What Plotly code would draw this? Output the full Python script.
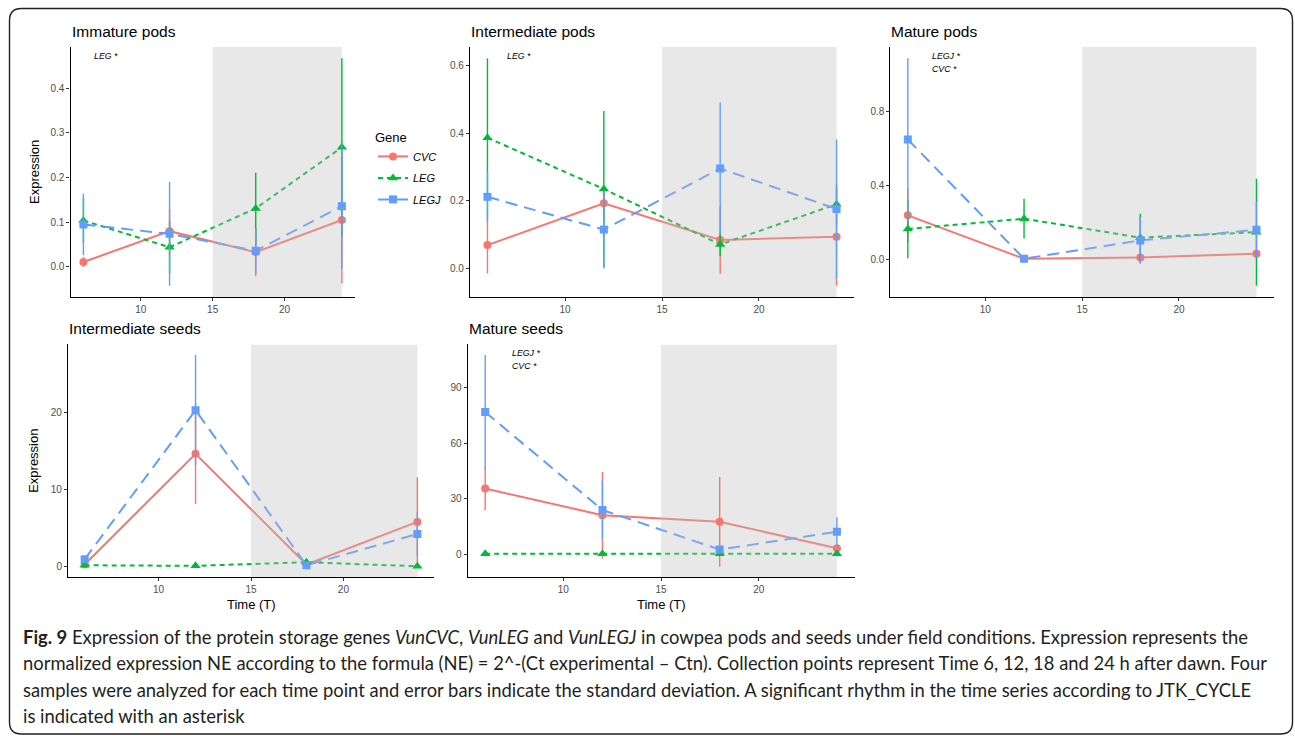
import plotly.graph_objects as go

W, H = 1295, 736

# ---- data -------------------------------------------------------------
TIMES = [6, 12, 18, 24]
GENES = ["CVC", "LEG", "LEGJ"]
NIGHT_START, NIGHT_END = 15, 24

PANEL_TITLES = ["Immature pods", "Intermediate pods", "Mature pods",
                "Intermediate seeds", "Mature seeds"]
RHYTHM_NOTES = [["LEG *"], ["LEG *"], ["LEGJ *", "CVC *"], [], ["LEGJ *", "CVC *"]]

# Immature pods
imm_pods_cvc = [0.011, 0.080, 0.033, 0.105]
imm_pods_cvc_sd = [0.011, 0.050, 0.054, 0.142]
imm_pods_leg = [0.104, 0.044, 0.131, 0.268]
imm_pods_leg_sd = [0.050, 0.060, 0.080, 0.199]
imm_pods_legj = [0.095, 0.074, 0.036, 0.136]
imm_pods_legj_sd = [0.069, 0.116, 0.050, 0.140]

# Intermediate pods
int_pods_cvc = [0.069, 0.193, 0.084, 0.094]
int_pods_cvc_sd = [0.084, 0.050, 0.100, 0.145]
int_pods_leg = [0.387, 0.235, 0.071, 0.190]
int_pods_leg_sd = [0.235, 0.231, 0.035, 0.060]
int_pods_legj = [0.212, 0.115, 0.296, 0.176]
int_pods_legj_sd = [0.075, 0.115, 0.195, 0.206]

# Mature pods
mat_pods_cvc = [0.239, 0.004, 0.011, 0.031]
mat_pods_cvc_sd = [0.145, 0.005, 0.008, 0.010]
mat_pods_leg = [0.165, 0.221, 0.118, 0.148]
mat_pods_leg_sd = [0.158, 0.108, 0.130, 0.290]
mat_pods_legj = [0.650, 0.004, 0.103, 0.161]
mat_pods_legj_sd = [0.440, 0.005, 0.127, 0.150]

# Intermediate seeds
int_seeds_cvc = [0.26, 14.6, 0.26, 5.78]
int_seeds_cvc_sd = [0.20, 6.5, 0.15, 5.80]
int_seeds_leg = [0.17, 0.09, 0.56, 0.04]
int_seeds_leg_sd = [0.05, 0.05, 0.10, 0.03]
int_seeds_legj = [0.95, 20.26, 0.17, 4.22]
int_seeds_legj_sd = [0.40, 7.15, 0.10, 2.90]

# Mature seeds
mat_seeds_cvc = [35.5, 21.1, 17.5, 3.2]
mat_seeds_cvc_sd = [11.7, 23.4, 24.3, 1.5]
mat_seeds_leg = [0.2, 0.2, 0.2, 0.2]
mat_seeds_leg_sd = [0.1, 0.1, 0.1, 0.1]
mat_seeds_legj = [76.9, 23.9, 2.5, 12.1]
mat_seeds_legj_sd = [30.9, 15.9, 1.5, 7.9]

PANEL_DATA = [
    [(imm_pods_cvc, imm_pods_cvc_sd), (imm_pods_leg, imm_pods_leg_sd), (imm_pods_legj, imm_pods_legj_sd)],
    [(int_pods_cvc, int_pods_cvc_sd), (int_pods_leg, int_pods_leg_sd), (int_pods_legj, int_pods_legj_sd)],
    [(mat_pods_cvc, mat_pods_cvc_sd), (mat_pods_leg, mat_pods_leg_sd), (mat_pods_legj, mat_pods_legj_sd)],
    [(int_seeds_cvc, int_seeds_cvc_sd), (int_seeds_leg, int_seeds_leg_sd), (int_seeds_legj, int_seeds_legj_sd)],
    [(mat_seeds_cvc, mat_seeds_cvc_sd), (mat_seeds_leg, mat_seeds_leg_sd), (mat_seeds_legj, mat_seeds_legj_sd)],
]

Y_TICKS = [[0.0, 0.1, 0.2, 0.3, 0.4], [0.0, 0.2, 0.4, 0.6], [0.0, 0.4, 0.8],
           [0, 10, 20], [0, 30, 60, 90]]
Y_TICKFMT = [".1f", ".1f", ".1f", "d", "d"]
X_TICKS = [10, 15, 20]

CAPTION = [
    "<b>Fig. 9</b> Expression of the protein storage genes <i>VunCVC</i>, <i>VunLEG</i> and "
    "<i>VunLEGJ</i> in cowpea pods and seeds under field conditions. Expression represents the",
    "normalized expression NE according to the formula (NE) = 2^-(Ct experimental \u2013 Ctn). "
    "Collection points represent Time 6, 12, 18 and 24 h after dawn. Four",
    "samples were analyzed for each time point and error bars indicate the standard deviation. "
    "A significant rhythm in the time series according to JTK_CYCLE",
    "is indicated with an asterisk",
]

# ---- styling ------------------------------------------------------------
FONT = "Liberation Sans, Arial, sans-serif"
CAPTION_FONT = "Lato, sans-serif"
COLORS = {"CVC": "#F8766D", "LEG": "#00BA38", "LEGJ": "#619CFF"}
DASHES = {"CVC": "solid", "LEG": "5px,4px", "LEGJ": "12px,7px"}
SYMBOLS = {"CVC": "circle", "LEG": "triangle-up", "LEGJ": "square"}
MSIZE = {"CVC": 8, "LEG": 9, "LEGJ": 8}

# panel plot areas in pixels: (left, right, top, bottom)
PANEL_BOX = [
    (70.5, 354.8, 47, 297),
    (470.0, 854.0, 47, 297),
    (890.4, 1273.9, 47, 297),
    (68.0, 434.0, 344.4, 577.3),
    (467.6, 854.5, 344.4, 577.3),
]


def px_x(x):
    return x / W


def px_y(y):
    return 1 - y / H


fig = go.Figure()
annotations = []

for p, series in enumerate(PANEL_DATA):
    ax = "" if p == 0 else str(p + 1)
    xref, yref = "x" + ax, "y" + ax
    left, right, top, bottom = PANEL_BOX[p]

    lo = min(m - s for vals, sds in series for m, s in zip(vals, sds))
    hi = max(m + s for vals, sds in series for m, s in zip(vals, sds))
    pad = (hi - lo) * 0.05
    yrange = [lo - pad, hi + pad]
    span = TIMES[-1] - TIMES[0]
    xrange = [TIMES[0] - 0.05 * span, TIMES[-1] + 0.05 * span]

    # connecting lines
    for g, (vals, sds) in zip(GENES, series):
        fig.add_trace(go.Scatter(
            x=TIMES, y=vals, mode="lines", xaxis=xref, yaxis=yref,
            line=dict(color=COLORS[g], width=2, dash=DASHES[g]),
            showlegend=False, hoverinfo="skip"))

    # translucent night band, laid over the lines
    fig.add_trace(go.Scatter(
        x=[NIGHT_START, NIGHT_END, NIGHT_END, NIGHT_START, NIGHT_START],
        y=[yrange[0], yrange[0], yrange[1], yrange[1], yrange[0]],
        mode="lines", fill="toself", fillcolor="rgba(190,190,190,0.35)",
        line=dict(width=0, color="rgba(0,0,0,0)"), xaxis=xref, yaxis=yref,
        showlegend=False, hoverinfo="skip"))

    # points with standard deviation bars
    for g, (vals, sds) in zip(GENES, series):
        fig.add_trace(go.Scatter(
            x=TIMES, y=vals, mode="markers", xaxis=xref, yaxis=yref,
            marker=dict(color=COLORS[g], symbol=SYMBOLS[g], size=MSIZE[g], line=dict(width=0)),
            error_y=dict(type="data", array=sds, visible=True, color=COLORS[g],
                         thickness=1.4, width=0),
            showlegend=False, name=g))

    axis_common = dict(showline=True, linecolor="black", linewidth=1.1, ticks="outside",
                       ticklen=3, tickwidth=1, tickcolor="#333333", showgrid=False,
                       zeroline=False, tickfont=dict(family=FONT, size=10, color="#4D4D4D"))
    fig.update_layout({
        "xaxis" + ax: dict(domain=[px_x(left), px_x(right)], range=xrange, anchor=yref,
                           tickvals=X_TICKS, **axis_common),
        "yaxis" + ax: dict(domain=[px_y(bottom), px_y(top)], range=yrange, anchor=xref,
                           tickvals=Y_TICKS[p], tickformat=Y_TICKFMT[p], **axis_common),
    })

    # panel title
    annotations.append(dict(text=PANEL_TITLES[p], xref="paper", yref="paper",
                            x=px_x(left - 1), y=px_y(top - 16), xanchor="left", yanchor="middle",
                            showarrow=False, font=dict(family=FONT, size=15.5, color="black")))
    # rhythm notes
    for k, note in enumerate(RHYTHM_NOTES[p]):
        nx = {0: 92, 1: 505, 2: 930, 4: 510}[p]
        annotations.append(dict(text="<i>" + note + "</i>", xref="paper", yref="paper",
                                x=px_x(nx), y=px_y(top + 9 + 13 * k), xanchor="left",
                                yanchor="middle", showarrow=False,
                                font=dict(family=FONT, size=8.8, color="black")))

# axis titles
for p in (0, 3):
    left, right, top, bottom = PANEL_BOX[p]
    annotations.append(dict(text="Expression", xref="paper", yref="paper", x=px_x(34),
                            y=px_y((top + bottom) / 2), textangle=-90, showarrow=False,
                            xanchor="center", yanchor="middle",
                            font=dict(family=FONT, size=13, color="black")))
for p in (3, 4):
    left, right, top, bottom = PANEL_BOX[p]
    annotations.append(dict(text="Time (T)", xref="paper", yref="paper",
                            x=px_x((left + right) / 2), y=px_y(604), showarrow=False,
                            xanchor="center", yanchor="middle",
                            font=dict(family=FONT, size=13, color="black")))

# legend entries (line + marker keys)
for g in GENES:
    fig.add_trace(go.Scatter(
        x=[None], y=[None], mode="lines+markers", name="<i>" + g + "</i>",
        legendgroup=g,
        line=dict(color=COLORS[g], width=2, dash=DASHES[g]),
        marker=dict(color=COLORS[g], symbol=SYMBOLS[g], size=MSIZE[g])))

# caption
for i, line in enumerate(CAPTION):
    annotations.append(dict(text=line, xref="paper", yref="paper", x=px_x(21),
                            y=px_y(637 + 26.3 * i), xanchor="left", yanchor="middle",
                            showarrow=False, align="left",
                            font=dict(family=CAPTION_FONT, size=18.4, color="#231F20")))

# rounded frame around figure
x0, x1, y0, y1, r = px_x(9.5), px_x(1292.5), px_y(8.5), px_y(734), 12
rx, ry = r / W, r / H
frame = (f"M {x0 + rx},{y0} L {x1 - rx},{y0} Q {x1},{y0} {x1},{y0 - ry} "
         f"L {x1},{y1 + ry} Q {x1},{y1} {x1 - rx},{y1} L {x0 + rx},{y1} "
         f"Q {x0},{y1} {x0},{y1 + ry} L {x0},{y0 - ry} Q {x0},{y0} {x0 + rx},{y0} Z")

fig.update_layout(
    width=W, height=H, margin=dict(l=0, r=0, t=0, b=0),
    paper_bgcolor="white", plot_bgcolor="rgba(0,0,0,0)",
    font=dict(family=FONT),
    annotations=annotations,
    shapes=[dict(type="path", path=frame, xref="paper", yref="paper",
                 line=dict(color="#231F20", width=1.4), layer="above")],
    legend=dict(x=px_x(373), y=px_y(125), xanchor="left", yanchor="top",
                title=dict(text="Gene", font=dict(family=FONT, size=13, color="black")),
                font=dict(family=FONT, size=11, color="black"),
                bgcolor="rgba(0,0,0,0)", itemwidth=30, tracegroupgap=2.5),
    showlegend=True,
)

fig.write_html("out.html")
